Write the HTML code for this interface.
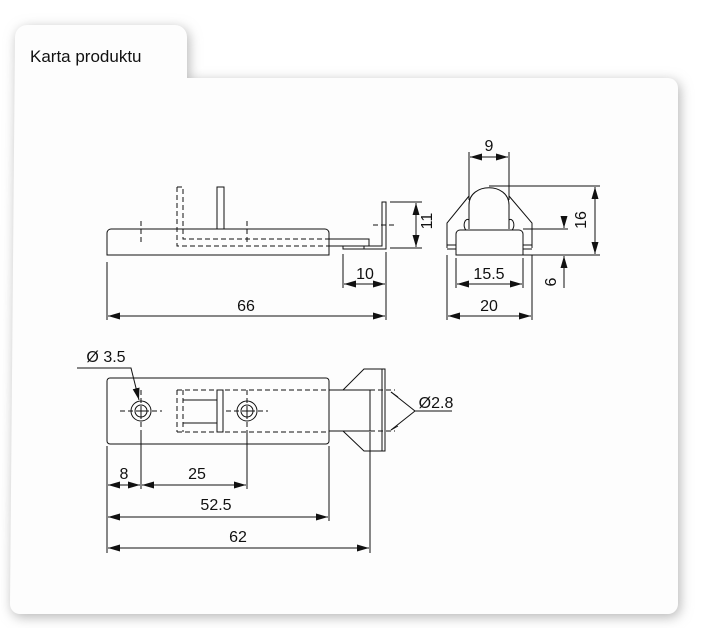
<!DOCTYPE html>
<html><head><meta charset="utf-8"><style>
html,body{margin:0;padding:0;background:#fff;width:713px;height:628px;overflow:hidden}
svg{display:block}
text{font-family:"Liberation Sans",Arial,sans-serif;fill:#111}
</style></head><body>
<svg width="713" height="628" viewBox="0 0 713 628" xmlns="http://www.w3.org/2000/svg">
<defs>
<filter id="sh" x="-10%" y="-10%" width="120%" height="120%"><feGaussianBlur stdDeviation="6"/></filter>
<marker id="a" viewBox="0 0 12 7" refX="12" refY="3.5" markerWidth="12" markerHeight="7" markerUnits="userSpaceOnUse" orient="auto-start-reverse"><path d="M0,0 L12,3.5 L0,7 z" fill="#111"/></marker>
</defs>
<path d="M15,37 a12,12 0 0 1 12,-12 h148 a12,12 0 0 1 12,12 v41 h481 a10,10 0 0 1 10,10 v516 a10,10 0 0 1 -10,10 h-648 a10,10 0 0 1 -10,-10 z" fill="#b5b5b5" filter="url(#sh)" transform="translate(2,3)"/>
<path d="M15,37 a12,12 0 0 1 12,-12 h148 a12,12 0 0 1 12,12 v41 h481 a10,10 0 0 1 10,10 v516 a10,10 0 0 1 -10,10 h-648 a10,10 0 0 1 -10,-10 z" fill="#fdfdfd"/>
<text x="30" y="62" font-size="17">Karta produktu</text>

<g stroke="#111" stroke-width="1" fill="none">
<!-- SIDE VIEW -->
<path d="M107,255 V233 a4,4 0 0 1 4,-4 H325 a4,4 0 0 1 4,4 V255 Z"/>
<rect x="217" y="187" width="7" height="42"/>
<path d="M329,239 H369 V246 H329"/>
<path d="M343,246 V249 H386 V202 H382 V246 H364 V249"/>
<g stroke-dasharray="5,3">
<path d="M177,187 H183 V239 H329"/>
<path d="M177,187 V246 H329"/>
<path d="M141,221 V243 M247,221 V243 M373,225 H395"/>
</g>
<path d="M390,202 H422 M390,248 H422"/>
<path d="M416,203 V247" marker-start="url(#a)" marker-end="url(#a)"/>
<path d="M343,254 V288 M386,252 V320"/>
<path d="M344,284 H385" marker-start="url(#a)" marker-end="url(#a)"/>
<path d="M107,262 V320"/>
<path d="M108,316 H385" marker-start="url(#a)" marker-end="url(#a)"/>

<!-- FRONT VIEW -->
<path d="M456,255 V234 a4,4 0 0 1 4,-4 H519 a4,4 0 0 1 4,4 V255 Z"/>
<path d="M469,229 V205 C469,182 509,182 509,205 V229"/>
<path d="M466,230 a3,5 0 0 1 3,-10 M512,230 a3,5 0 0 0 -3,-10"/>
<path d="M447,248 V223 L469,196 M532,248 V223 L509,196"/>
<path d="M447,245 H456 M447,249 H456 M523,245 H532 M523,249 H532"/>
<path d="M469,152 V200 M509,152 V200"/>
<path d="M470,157 H508" marker-start="url(#a)" marker-end="url(#a)"/>
<path d="M489,186 H600 M523,255 H600"/>
<path d="M595,187 V254" marker-start="url(#a)" marker-end="url(#a)"/>
<path d="M523,229 H568"/>
<path d="M564,216 V228" marker-end="url(#a)"/>
<path d="M564,288 V256" marker-end="url(#a)"/>
<path d="M456,258 V288 M523,258 V288"/>
<path d="M457,284 H522" marker-start="url(#a)" marker-end="url(#a)"/>
<path d="M447,255 V320 M532,255 V320"/>
<path d="M448,316 H531" marker-start="url(#a)" marker-end="url(#a)"/>

<!-- TOP VIEW -->
<rect x="107" y="378" width="222" height="66" rx="3"/>
<circle cx="141" cy="411" r="10"/><circle cx="141" cy="411" r="6"/>
<circle cx="247" cy="411" r="10"/><circle cx="247" cy="411" r="6"/>
<path d="M138,411 H144 M141,408 V414 M244,411 H250 M247,408 V414"/>
<g stroke-dasharray="5,3">
<path d="M120,411 H162 M141,390 V432 M226,411 H268 M247,390 V432"/>
<path d="M177,390 H329 M177,432 H329 M177,390 V432 M183,390 V432"/>
<path d="M370,390 H395 M370,431 H395"/>
</g>
<path d="M183,400 H217 M183,423 H217"/>
<rect x="217" y="390" width="6" height="42"/>
<path d="M329,390 H370 V431 H329"/>
<path d="M343,390 L364,369 H385 V451 H364 L343,431 M382,369 V451"/>
<path d="M452,411 H415 L391,392 M415,411 L391,430"/>
<path d="M398,397 L391,392 M398,426 L391,430"/>
<path d="M77,368 H131 L139,400" marker-end="url(#a)"/>
<path d="M107,446 V553 M141,432 V489 M247,432 V489 M329,446 V521 M370,432 V553"/>
<path d="M108,485 H140" marker-start="url(#a)" marker-end="url(#a)"/>
<path d="M142,485 H246" marker-start="url(#a)" marker-end="url(#a)"/>
<path d="M108,517 H328" marker-start="url(#a)" marker-end="url(#a)"/>
<path d="M108,548 H369" marker-start="url(#a)" marker-end="url(#a)"/>
</g>
<g font-size="16" text-anchor="middle">
<text x="246" y="311">66</text>
<text x="365" y="279">10</text>
<text x="428" y="221" transform="rotate(-90 428 221)" dominant-baseline="middle">11</text>
<text x="489" y="151">9</text>
<text x="582" y="220" transform="rotate(-90 582 220)" dominant-baseline="middle">16</text>
<text x="552" y="282" transform="rotate(-90 552 282)" dominant-baseline="middle">6</text>
<text x="489" y="279">15.5</text>
<text x="489" y="311">20</text>
<text x="124" y="479">8</text>
<text x="197" y="479">25</text>
<text x="216" y="510">52.5</text>
<text x="238" y="542">62</text>
<text x="436" y="408">Ø2.8</text>
<text x="106" y="362">Ø 3.5</text>
</g>
</svg>
</body></html>
